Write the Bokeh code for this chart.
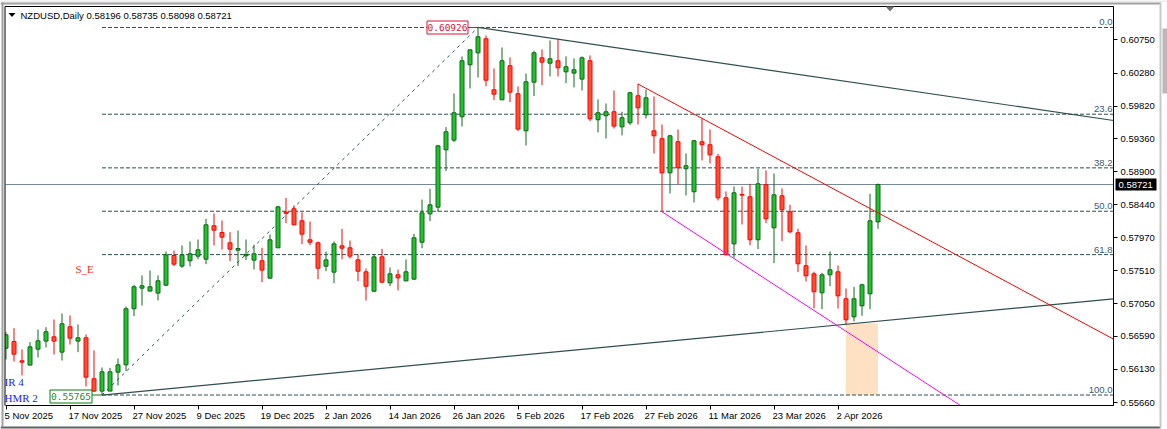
from bokeh.core.properties import value
from bokeh.embed import file_html
from bokeh.models import FixedTicker, Label, PolyAnnotation
from bokeh.plotting import figure
from bokeh.resources import INLINE

# daily candles, oldest first
highs = [0.56648, 0.56704, 0.56405, 0.56508, 0.56685, 0.56718, 0.56826, 0.56910, 0.56882, 0.56756,
         0.56615, 0.56391, 0.56152, 0.56147, 0.56278, 0.57008, 0.57313, 0.57444, 0.57514, 0.57444,
         0.57781, 0.57795, 0.57865, 0.57921, 0.57949, 0.58239, 0.58314, 0.58216, 0.58052, 0.58075,
         0.57949, 0.57874, 0.57832, 0.58019, 0.58421, 0.58534, 0.58426, 0.58332, 0.58201, 0.57921,
         0.57780, 0.57921, 0.58098, 0.57935, 0.57747, 0.57541, 0.57747, 0.57818, 0.57556, 0.57527,
         0.57668, 0.58028, 0.58510, 0.58660, 0.59278, 0.59527, 0.59999, 0.60519, 0.60612, 0.60926,
         0.60814, 0.60350, 0.60645, 0.60505, 0.60098, 0.60280, 0.60598, 0.60617, 0.60743, 0.60767,
         0.60519, 0.60491, 0.60519, 0.60533, 0.59915, 0.59859, 0.60041, 0.59742, 0.60023, 0.60135,
         0.60055, 0.59957, 0.59564, 0.59419, 0.59494, 0.59157, 0.59349, 0.59658, 0.59494, 0.59152,
         0.58623, 0.58693, 0.58693, 0.58731, 0.58941, 0.58918, 0.58876, 0.58665, 0.58436, 0.58099,
         0.57865, 0.57495, 0.57481, 0.57781, 0.57584, 0.57261, 0.57285, 0.57327, 0.58590, 0.58735]
lows = [0.56264, 0.56236, 0.56040, 0.56185, 0.56292, 0.56433, 0.56334, 0.56250, 0.56475, 0.56367,
        0.55885, 0.55806, 0.55765, 0.55820, 0.55899, 0.56100, 0.56873, 0.57022, 0.57224, 0.57093,
        0.57294, 0.57575, 0.57551, 0.57570, 0.57673, 0.57603, 0.57865, 0.57809, 0.57645, 0.57575,
        0.57659, 0.57528, 0.57350, 0.57397, 0.57832, 0.58178, 0.58150, 0.57883, 0.57869, 0.57392,
        0.57504, 0.57336, 0.57673, 0.57682, 0.57364, 0.57092, 0.57209, 0.57336, 0.57294, 0.57233,
        0.57364, 0.57382, 0.57827, 0.58206, 0.58338, 0.58909, 0.59316, 0.59536, 0.60069, 0.60224,
        0.60102, 0.59906, 0.59910, 0.59878, 0.59470, 0.59269, 0.59962, 0.60116, 0.60238, 0.60238,
        0.60144, 0.60084, 0.60041, 0.59611, 0.59452, 0.59367, 0.59508, 0.59410, 0.59559, 0.59564,
        0.59648, 0.59157, 0.58338, 0.58595, 0.58722, 0.58567, 0.58469, 0.59059, 0.59016, 0.58497,
        0.57734, 0.57692, 0.58160, 0.57870, 0.57814, 0.58179, 0.57617, 0.57926, 0.58038, 0.57491,
        0.57360, 0.56980, 0.56971, 0.57294, 0.56980, 0.56751, 0.56798, 0.56878, 0.56971, 0.58098]
body_tops = [0.56610, 0.56517, 0.56245, 0.56442, 0.56526, 0.56653, 0.56582, 0.56765, 0.56723, 0.56568,
             0.56568, 0.55993, 0.56091, 0.56091, 0.56189, 0.56976, 0.57285, 0.57299, 0.57285, 0.57369,
             0.57734, 0.57724, 0.57734, 0.57748, 0.57804, 0.58155, 0.58141, 0.58047, 0.57902, 0.57823,
             0.57738, 0.57748, 0.57650, 0.57944, 0.58407, 0.58332, 0.58379, 0.58211, 0.57944, 0.57902,
             0.57663, 0.57888, 0.57860, 0.57832, 0.57663, 0.57495, 0.57705, 0.57705, 0.57467, 0.57453,
             0.57495, 0.57972, 0.58323, 0.58435, 0.59264, 0.59461, 0.59728, 0.60458, 0.60612, 0.60795,
             0.60767, 0.60051, 0.60458, 0.60388, 0.59995, 0.60163, 0.60570, 0.60500, 0.60486, 0.60458,
             0.60374, 0.60332, 0.60500, 0.60458, 0.59728, 0.59742, 0.59742, 0.59658, 0.60009, 0.59967,
             0.59938, 0.59475, 0.59363, 0.59405, 0.59321, 0.58984, 0.59335, 0.59321, 0.59279, 0.59110,
             0.58534, 0.58604, 0.58581, 0.58548, 0.58731, 0.58717, 0.58576, 0.58562, 0.58338, 0.58043,
             0.57580, 0.57467, 0.57453, 0.57523, 0.57495, 0.57116, 0.57116, 0.57313, 0.58211, 0.58721]
body_bottoms = [0.56423, 0.56339, 0.56227, 0.56185, 0.56409, 0.56522, 0.56522, 0.56367, 0.56564, 0.56522,
                0.56016, 0.55820, 0.55820, 0.55820, 0.56086, 0.56189, 0.56976, 0.57266, 0.57224, 0.57196,
                0.57308, 0.57603, 0.57575, 0.57650, 0.57715, 0.57673, 0.58080, 0.57982, 0.57813, 0.57799,
                0.57720, 0.57659, 0.57519, 0.57406, 0.57832, 0.58318, 0.58155, 0.58024, 0.57911, 0.57546,
                0.57574, 0.57490, 0.57827, 0.57715, 0.57504, 0.57293, 0.57223, 0.57350, 0.57340, 0.57410,
                0.57368, 0.57392, 0.57911, 0.58309, 0.58403, 0.59208, 0.59344, 0.59672, 0.60402, 0.60570,
                0.60186, 0.59990, 0.59910, 0.60018, 0.59499, 0.59475, 0.60158, 0.60439, 0.60425, 0.60360,
                0.60303, 0.60285, 0.60201, 0.59644, 0.59630, 0.59686, 0.59541, 0.59531, 0.59587, 0.59798,
                0.59700, 0.59405, 0.58885, 0.58885, 0.58956, 0.58942, 0.58619, 0.59279, 0.59138, 0.58534,
                0.57734, 0.57888, 0.58572, 0.57945, 0.57945, 0.58239, 0.58113, 0.58366, 0.58057, 0.57608,
                0.57439, 0.57215, 0.57200, 0.57453, 0.57158, 0.56821, 0.56863, 0.57018, 0.57186, 0.58196]
# indexes of the down candles
down_days = [1, 2, 6, 8, 10, 11, 21, 26, 27, 28, 32, 35, 36, 37, 38, 39, 42, 43, 44, 45, 47, 49,
             60, 61, 63, 64, 67, 69, 73, 76, 79, 81, 82, 84, 87, 88, 89, 90, 92, 93, 95, 97, 98, 99,
             100, 101, 104, 105]

date_idx = [0, 8, 16, 24, 32, 40, 48, 56, 64, 72, 80, 88, 96, 104]
date_labels = ["5 Nov 2025", "17 Nov 2025", "27 Nov 2025", "9 Dec 2025", "19 Dec 2025", "2 Jan 2026", "14 Jan 2026",
               "26 Jan 2026", "5 Feb 2026", "17 Feb 2026", "27 Feb 2026", "11 Mar 2026", "23 Mar 2026", "2 Apr 2026"]
price_ticks = [0.60750, 0.60280, 0.59820, 0.59360, 0.58900, 0.58440, 0.57970, 0.57510, 0.57050, 0.56590, 0.56130, 0.55660]

swing_low = 0.55765
swing_high = 0.60926
last_price = 0.58721
fib_pct = [0.0, 23.6, 38.2, 50.0, 61.8, 100.0]
fib_labels = ["0.0", "23.6", "38.2", "50.0", "61.8", "100.0"]
low_idx, high_idx = 12, 59
red_x, red_y = [79, 138.44], [0.60132, 0.56550]
magenta_x, magenta_y = [82, 119.3], [0.58338, 0.55618]
rising_x, rising_y = [low_idx, 138.44], [swing_low, 0.57116]
falling_x, falling_y = [high_idx, 138.44], [swing_high, 0.59620]
zone_x, zone_y = [104.97, 109], [swing_low, 0.56774]

UI = "Liberation Sans"
MONO = "DejaVu Sans Mono"
SLATE = "#2f4f4f"


# window pixels to chart units, for the bits of terminal chrome and captions
def wx(px):
    return (px - 5.5) / 8


def wy(px):
    return 0.613046 - 0.00014041 * px


# the frame fills the whole window so that the terminal's edges and tags can be drawn too
p = figure(width=1167, height=429, output_backend="svg", toolbar_location=None,
           x_range=(wx(0), wx(1167)), y_range=(wy(429), wy(0)), y_axis_location="right",
           min_border_left=0, min_border_right=0, min_border_top=0, min_border_bottom=0)
p.styles = {"position": "absolute", "left": "0px", "top": "0px"}
p.grid.visible = False
p.outline_line_color = None
p.background_fill_color = "white"
p.border_fill_color = "white"

p.yaxis.fixed_location = wx(1113)
p.yaxis.bounds = (wy(405), wy(6))
p.yaxis.ticker = FixedTicker(ticks=price_ticks)
p.yaxis.major_label_overrides = {t: f"{t:.5f}" for t in price_ticks}
p.yaxis.major_label_text_font = UI
p.yaxis.major_label_text_font_size = "9.5px"
p.yaxis.major_label_text_color = "black"
p.yaxis.major_label_standoff = 3
p.yaxis.major_tick_in = 0
p.yaxis.major_tick_out = 4
p.yaxis.minor_tick_line_color = None
p.yaxis.axis_line_color = "black"
p.yaxis.major_tick_line_color = "black"

# date texts start at their tick, so they are placed as labels further down
p.xaxis.fixed_location = wy(405)
p.xaxis.bounds = (wx(4.5), wx(1113))
p.xaxis.ticker = FixedTicker(ticks=date_idx)
p.xaxis.major_label_text_color = None
p.xaxis.major_tick_in = 0
p.xaxis.major_tick_out = 4
p.xaxis.minor_tick_line_color = None
p.xaxis.axis_line_color = "black"
p.xaxis.major_tick_line_color = "black"

# zone and price line sit behind the candles
p.quad(left=[zone_x[0]], right=[zone_x[1]], bottom=[zone_y[0]], top=[zone_y[1]], fill_color="#fde1c2", line_color=None)
p.line(x=[wx(5), wx(1113)], y=[last_price, last_price], line_color="#778899", line_width=1)

fib_prices = [swing_high - (swing_high - swing_low) * k / 100 for k in fib_pct]
for level in fib_prices:
    p.line(x=[low_idx, wx(1113)], y=[level, level], line_color=SLATE, line_width=1, line_dash="4 2")
p.line(x=[low_idx, high_idx], y=[swing_low, swing_high], line_color=SLATE, line_width=1, line_dash="3 4")
p.text(x=[wx(1112)] * len(fib_prices), y=fib_prices, text=fib_labels, text_align="right", text_baseline="bottom",
       y_offset=-2, text_font=value(UI), text_font_size="9.5px", text_color="#3d5a73")

idx = list(range(len(highs)))
up = [i for i in idx if i not in down_days]
for days, wick, fill in [(up, "#0b6b16", "#25c02e"), (down_days, "#ff0000", "#ff5236")]:
    p.segment(x0=days, x1=days, y0=[lows[i] for i in days], y1=[highs[i] for i in days], line_color=wick, line_width=1)
    p.vbar(x=days, width=0.5, top=[body_tops[i] for i in days], bottom=[body_bottoms[i] for i in days],
           fill_color=fill, line_color=wick, line_width=1)

p.line(x=rising_x, y=rising_y, line_color=SLATE, line_width=1.2)
p.line(x=falling_x, y=falling_y, line_color=SLATE, line_width=1.2)
p.line(x=red_x, y=red_y, line_color="#ff0000", line_width=1)
p.line(x=magenta_x, y=magenta_y, line_color="#ff00ff", line_width=1)

# the two swing price tags with their anchors
p.line(x=[wx(91), low_idx], y=[swing_low, swing_low], line_color="#008000", line_width=1)
p.line(x=[wx(467), high_idx], y=[swing_high, swing_high], line_color="#dc143c", line_width=1)
p.quad(left=[wx(426.5), wx(49.5)], right=[wx(467.5), wx(91.5)], top=[wy(20.5), wy(389.5)], bottom=[wy(33.5), wy(402.5)],
       fill_color="white", line_color=["#dc143c", "#008000"], line_width=1)
p.text(x=[wx(447), wx(70.5)], y=[wy(27), wy(396)], text=[f"{swing_high:.5f}", f"{swing_low:.5f}"], text_align="center",
       text_baseline="middle", text_font=value(MONO), text_font_size="9.5px", text_color=["#dc143c", "#2e8b2e"])

# top and left edges of the chart area
p.line(x=[wx(4.5), wx(1113), wx(1113)], y=[wy(6), wy(6), wy(405)], line_color="black", line_width=1)


def caption(px, py, text, color="black", font=UI, size="9.5px", align="left"):
    p.add_layout(Label(x=wx(px), y=wy(py), text=text, text_color=color, text_font=font, text_font_size=size,
                       text_align=align, text_baseline="middle"))


# left mask for the first candle, last price tag and the terminal window edges
for left, right, top, bottom, col in [(0, 4.5, 6, 405, "white"), (4, 5, 6, 405, "black"),
                                      (0, 1160, 2, 4, "#a0a0a0"), (0, 1167, 0, 1, "#d8d8d8"), (1, 3, 2, 426, "#a0a0a0"),
                                      (0, 1160, 426, 428, "#606060"), (1159, 1161, 2, 427, "#c8c8c8"),
                                      (1162, 1167, 28, 93, "#b8b8b8"), (1115, 1156, 178, 190, "black")]:
    p.add_layout(PolyAnnotation(xs=[wx(left), wx(right), wx(right), wx(left)], ys=[wy(top), wy(top), wy(bottom), wy(bottom)],
                                fill_color=col, fill_alpha=1, line_color=None))
p.add_layout(PolyAnnotation(xs=[wx(8), wx(15), wx(11.5)], ys=[wy(12.5), wy(12.5), wy(16.5)],
                            fill_color="black", fill_alpha=1, line_color=None))
p.add_layout(PolyAnnotation(xs=[wx(885), wx(894), wx(889.5)], ys=[wy(6), wy(6), wy(11)],
                            fill_color="#707070", fill_alpha=1, line_color=None))

for i, lab in zip(date_idx, date_labels):
    caption(4 + 8 * i, 414.5, lab)

caption(20, 14.5, "NZDUSD,Daily  0.58196 0.58735 0.58098 0.58721")
caption(75, 268, "S_E", color="#ff2a1a", font="Liberation Serif", size="11px")
caption(4, 381, "IR 4", color="#1a1aff", font="Liberation Serif", size="11px")
caption(4, 397, "HMR 2", color="#1a1aff", font="Liberation Serif", size="11px")
caption(1118, 184.5, f"{last_price:.5f}", color="white")

open("out.html", "w").write(file_html(p, INLINE))
